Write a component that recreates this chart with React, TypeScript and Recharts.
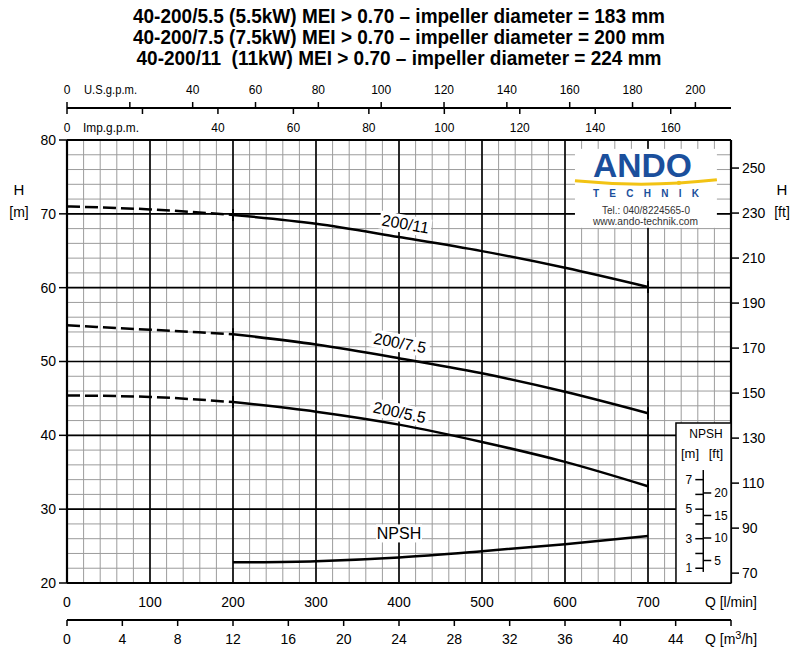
import React from 'react';
import {
  LineChart,
  Line,
  XAxis,
  YAxis,
  CartesianGrid,
  ReferenceArea,
  ReferenceLine,
  ReferenceDot,
} from 'recharts';

const SANS = '"Liberation Sans", Arial, sans-serif';

// flow Q [l/min] where the head curves were read
const flow = [0, 100, 200, 300, 400, 500, 600, 700];
// head H [m]; everything left of 200 l/min is drawn dashed
const head11 = [71.0, 70.6, 69.85, 68.66, 66.85, 64.95, 62.7, 60.1];
const head75 = [54.9, 54.3, 53.7, 52.3, 50.45, 48.4, 45.9, 43.0];
const head55 = [45.4, 45.2, 44.5, 43.2, 41.45, 39.1, 36.4, 33.1];
const DASH_END = 2; // index of 200 l/min

// NPSH [m]
const npshFlow = [200, 300, 400, 500, 600, 700];
const npshMeters = [1.4, 1.48, 1.73, 2.15, 2.63, 3.18];

// axis ticks
const qTicks = [0, 100, 200, 300, 400, 500, 600, 700, 800];
const m3hTicks = [0, 4, 8, 12, 16, 20, 24, 28, 32, 36, 40, 44, 48];
const usTicks = [0, 20, 40, 60, 80, 100, 120, 140, 160, 180, 200];
const impTicks = [0, 20, 40, 60, 80, 100, 120, 140, 160];
const hTicks = [20, 30, 40, 50, 60, 70, 80];
const ftTicks = [70, 90, 110, 130, 150, 170, 190, 210, 230, 250];
const npshMTicks = [1, 2, 3, 4, 5, 6, 7];
const npshFtTicks = [5, 10, 15, 20];

const LPM_PER_M3H = 1000 / 60;
const LPM_PER_USGPM = 3.78541;
const LPM_PER_IMPGPM = 4.54609;
const FT_PER_M = 3.28084;
const Q_MAX = 800;
const H_MIN = 20;
const H_MAX = 80;

// grid: fine lines every 20 l/min / 2 m, heavy lines every 100 l/min / 10 m
const gridMinorQ = Array.from({ length: 41 }, (_, i) => i * 20);
const gridMinorH = Array.from({ length: 31 }, (_, i) => H_MIN + i * 2);
const gridMajorQ = [100, 200, 300, 400, 500, 600, 700];
const gridMajorH = [30, 40, 50, 60, 70];

const curves = [
  { name: '200/11', key: 'h11', head: head11, angle: 10, dx: 4, dy: -14, w: 52 },
  { name: '200/7.5', key: 'h75', head: head75, angle: 11, dx: -2, dy: -15, w: 60 },
  { name: '200/5.5', key: 'h55', head: head55, angle: 12, dx: -2, dy: -12, w: 60 },
];

const chartData = flow.map((q, i) => {
  const row: Record<string, number | null> = {
    q,
    m3h: q / LPM_PER_M3H,
    usgpm: q / LPM_PER_USGPM,
    impgpm: q / LPM_PER_IMPGPM,
  };
  curves.forEach((c) => {
    row[`${c.key}d`] = i <= DASH_END ? c.head[i] : null;
    row[`${c.key}s`] = i >= DASH_END ? c.head[i] : null;
  });
  const n = npshFlow.indexOf(q);
  row.npsh = n >= 0 ? npshMeters[n] : null;
  return row;
});

// small vertical marks where the solid part of a curve starts and ends
const endTick = (p: any) => {
  const show = (p.index === DASH_END || p.index === flow.length - 1) && p.cy != null && !isNaN(p.cy);
  if (!show) return <g key={`d${p.index}`} />;
  return <line key={`d${p.index}`} x1={p.cx} x2={p.cx} y1={p.cy - 6} y2={p.cy + 6} stroke="#000" strokeWidth={2} />;
};

const curveLabel = (text: string, angle: number, dx: number, dy: number, w: number) => (p: any) => (
  <g transform={`translate(${p.cx},${p.cy}) rotate(${angle})`}>
    <rect x={dx - w / 2} y={dy - 9} width={w} height={18} fill="#fff" />
    <text x={dx} y={dy} textAnchor="middle" dominantBaseline="central" fontSize={16} fontFamily={SANS} fill="#000">
      {text}
    </text>
  </g>
);

const UsTick = (p: any) => {
  const v = p.payload.value;
  return (
    <g>
      {v !== 20 && (
        <text x={p.x} y={p.y} textAnchor="middle" fontSize={12} fontFamily={SANS} fill="#000">{v}</text>
      )}
      {v === 0 && (
        <text x={p.x + 17} y={p.y} fontSize={12} fontFamily={SANS} fill="#000" textLength={53} lengthAdjust="spacingAndGlyphs">U.S.g.p.m.</text>
      )}
    </g>
  );
};

const ImpTick = (p: any) => {
  const v = p.payload.value;
  return (
    <g>
      <line x1={p.x} x2={p.x} y1={p.y - 32} y2={p.y - 26} stroke="#000" strokeWidth={1.5} />
      {v !== 20 && (
        <text x={p.x} y={p.y - 8} textAnchor="middle" fontSize={12} fontFamily={SANS} fill="#000">{v}</text>
      )}
      {v === 0 && (
        <text x={p.x + 16} y={p.y - 8} fontSize={12} fontFamily={SANS} fill="#000" textLength={56} lengthAdjust="spacingAndGlyphs">Imp.g.p.m.</text>
      )}
    </g>
  );
};

const Logo = (p: any) => {
  const { x, y, width, height } = p;
  return (
    <g>
      <rect x={x} y={y} width={width} height={height} fill="#fff" />
      <text x={x + 18} y={y + 28} fontSize={33} fontWeight="bold" fontFamily={SANS} fill="#1b4f9c" textLength={99} lengthAdjust="spacingAndGlyphs">
        ANDO
      </text>
      <path d={`M${x} ${y + 32} Q${x + width / 2} ${y + 39} ${x + width} ${y + 31}`} stroke="#f2c314" strokeWidth={3} fill="none" />
      <circle cx={x + 104} cy={y + 34} r={2.2} fill="#f2c314" />
      <text x={x + 18} y={y + 48} fontSize={10} fontWeight="bold" fontFamily={SANS} fill="#1b4f9c" textLength={106} lengthAdjust="spacing">
        TECHNIK
      </text>
      <text x={x + 27} y={y + 65} fontSize={10} fontFamily={SANS} fill="#333" textLength={88} lengthAdjust="spacingAndGlyphs">
        Tel.: 040/8224565-0
      </text>
      <text x={x + 18} y={y + 76} fontSize={10} fontFamily={SANS} fill="#333" textLength={105} lengthAdjust="spacingAndGlyphs">
        www.ando-technik.com
      </text>
    </g>
  );
};

const NpshBox = (p: any) => {
  const { x, y, width, height } = p;
  return (
    <g>
      <rect x={x} y={y} width={width} height={height} fill="#fff" stroke="#000" strokeWidth={1.5} />
      <text x={x + 30} y={y + 15} textAnchor="middle" fontSize={12} fontFamily={SANS} fill="#000">NPSH</text>
      <text x={x + 14} y={y + 35} textAnchor="middle" fontSize={13} fontFamily={SANS} fill="#000">[m]</text>
      <text x={x + 40} y={y + 35} textAnchor="middle" fontSize={13} fontFamily={SANS} fill="#000">[ft]</text>
    </g>
  );
};

// the little NPSH scale inside the box, in l/min
const SCALE_Q = 766.6;
const SCALE_TICK = 9.6;

const titles = [
  { text: '40-200/5.5 (5.5kW) MEI > 0.70 \u2013 impeller diameter = 183 mm', y: 23, len: 532 },
  { text: '40-200/7.5 (7.5kW) MEI > 0.70 \u2013 impeller diameter = 200 mm', y: 44, len: 532 },
  { text: '40-200/11  (11kW) MEI > 0.70 \u2013 impeller diameter = 224 mm', y: 65, len: 525 },
];

const tickFont = { fontSize: 14, fill: '#000', fontFamily: SANS };

export default function App() {
  return (
    <div style={{ position: 'absolute', left: 0, top: 0, width: 800, height: 647, background: '#fff' }}>
      <LineChart width={800} height={647} data={chartData} margin={{ top: 78, right: 0, bottom: 0, left: 0 }}>
        <CartesianGrid xAxisId="x1q" yAxisId="h" verticalValues={gridMinorQ} horizontalValues={gridMinorH} stroke="#9c9c9c" strokeWidth={1} />
        <CartesianGrid xAxisId="x1q" yAxisId="h" verticalValues={gridMajorQ} horizontalValues={gridMajorH} stroke="#000" strokeWidth={1.6} />
        <CartesianGrid xAxisId="x1q" yAxisId="h" verticalValues={[0, Q_MAX]} horizontalValues={[H_MIN, H_MAX]} stroke="#000" strokeWidth={2.2} />

        <XAxis
          xAxisId="x1q"
          type="number"
          dataKey="q"
          domain={[0, Q_MAX]}
          allowDataOverflow
          ticks={qTicks}
          interval={0}
          height={37}
          axisLine={false}
          tickLine={false}
          tickSize={0}
          tickMargin={14}
          tickFormatter={(v: number) => (v === Q_MAX ? '' : String(v))}
          tick={tickFont}
        />
        <XAxis
          xAxisId="x2m3h"
          type="number"
          dataKey="m3h"
          domain={[0, Q_MAX / LPM_PER_M3H]}
          allowDataOverflow
          ticks={m3hTicks}
          interval={0}
          height={27}
          axisLine={{ stroke: '#000', strokeWidth: 2 }}
          tickLine={{ stroke: '#000', strokeWidth: 1.5 }}
          tickSize={6}
          tickMargin={8}
          tickFormatter={(v: number) => (v === 48 ? '' : String(v))}
          tick={tickFont}
        />
        <XAxis
          xAxisId="x3imp"
          orientation="top"
          type="number"
          dataKey="impgpm"
          domain={[0, Q_MAX / LPM_PER_IMPGPM]}
          allowDataOverflow
          ticks={impTicks}
          interval={0}
          height={32}
          axisLine={false}
          tickLine={false}
          tickSize={0}
          tickMargin={0}
          tick={<ImpTick />}
        />
        <XAxis
          xAxisId="x4us"
          orientation="top"
          type="number"
          dataKey="usgpm"
          domain={[0, Q_MAX / LPM_PER_USGPM]}
          allowDataOverflow
          ticks={usTicks}
          interval={0}
          height={30}
          axisLine={{ stroke: '#000', strokeWidth: 2 }}
          tickLine={{ stroke: '#000', strokeWidth: 1.5 }}
          tickSize={6}
          tickMargin={8}
          tick={<UsTick />}
        />
        <YAxis
          yAxisId="h"
          type="number"
          domain={[H_MIN, H_MAX]}
          allowDataOverflow
          ticks={hTicks}
          interval={0}
          width={67}
          axisLine={false}
          tickLine={{ stroke: '#000', strokeWidth: 1.5 }}
          tickSize={8}
          tickMargin={3}
          tick={tickFont}
        />
        <YAxis
          yAxisId="ft"
          orientation="right"
          type="number"
          domain={[H_MIN * FT_PER_M, H_MAX * FT_PER_M]}
          allowDataOverflow
          ticks={ftTicks}
          interval={0}
          width={69}
          axisLine={false}
          tickLine={{ stroke: '#000', strokeWidth: 1.5 }}
          tickSize={8}
          tickMargin={3}
          tick={tickFont}
        />
        <YAxis yAxisId="npsh" hide type="number" domain={[0, (H_MAX - H_MIN) / 2]} allowDataOverflow />

        <ReferenceArea xAxisId="x1q" yAxisId="h" x1={612} x2={783} y1={68.1} y2={78.8} shape={Logo} ifOverflow="visible" />
        <ReferenceArea xAxisId="x1q" yAxisId="h" x1={733.7} x2={Q_MAX} y1={H_MIN} y2={41.67} shape={NpshBox} ifOverflow="visible" />

        <ReferenceLine
          xAxisId="x1q"
          yAxisId="npsh"
          segment={[{ x: SCALE_Q, y: 0.75 }, { x: SCALE_Q, y: 7.65 }]}
          stroke="#000"
          strokeWidth={1.5}
          ifOverflow="visible"
        />
        {npshMTicks.map((m) => (
          <ReferenceLine
            key={`m${m}`}
            xAxisId="x1q"
            yAxisId="npsh"
            segment={[{ x: SCALE_Q - SCALE_TICK, y: m }, { x: SCALE_Q, y: m }]}
            stroke="#000"
            strokeWidth={1.5}
            ifOverflow="visible"
            label={m % 2 === 1 ? { value: String(m), position: 'left', offset: 3, fontSize: 12, fill: '#000', fontFamily: SANS } : undefined}
          />
        ))}
        {npshFtTicks.map((f) => (
          <ReferenceLine
            key={`f${f}`}
            xAxisId="x1q"
            yAxisId="npsh"
            segment={[{ x: SCALE_Q, y: f / FT_PER_M }, { x: SCALE_Q + SCALE_TICK, y: f / FT_PER_M }]}
            stroke="#000"
            strokeWidth={1.5}
            ifOverflow="visible"
            label={{ value: String(f), position: 'right', offset: 3, fontSize: 12, fill: '#000', fontFamily: SANS }}
          />
        ))}

        {curves.map((c) => (
          <Line
            key={`${c.key}d`}
            xAxisId="x1q"
            yAxisId="h"
            dataKey={`${c.key}d`}
            type="monotone"
            stroke="#000"
            strokeWidth={2.5}
            strokeDasharray="13 5"
            dot={false}
            isAnimationActive={false}
          />
        ))}
        {curves.map((c) => (
          <Line
            key={`${c.key}s`}
            xAxisId="x1q"
            yAxisId="h"
            dataKey={`${c.key}s`}
            type="monotone"
            stroke="#000"
            strokeWidth={2.5}
            dot={endTick}
            isAnimationActive={false}
          />
        ))}
        <Line
          xAxisId="x1q"
          yAxisId="npsh"
          dataKey="npsh"
          type="monotone"
          stroke="#000"
          strokeWidth={2.5}
          dot={false}
          isAnimationActive={false}
        />

        {curves.map((c) => (
          <ReferenceDot
            key={`${c.key}-label`}
            xAxisId="x1q"
            yAxisId="h"
            x={flow[4]}
            y={c.head[4]}
            r={0}
            ifOverflow="visible"
            shape={curveLabel(c.name, c.angle, c.dx, c.dy, c.w)}
          />
        ))}
        <ReferenceDot
          xAxisId="x1q"
          yAxisId="npsh"
          x={npshFlow[2]}
          y={npshMeters[2]}
          r={0}
          ifOverflow="visible"
          shape={curveLabel('NPSH', 0, 0, -24, 46)}
        />
      </LineChart>

      <svg width={800} height={647} style={{ position: 'absolute', left: 0, top: 0, pointerEvents: 'none' }}>
        {titles.map((t) => (
          <text
            key={t.y}
            x={399}
            y={t.y}
            textAnchor="middle"
            fontSize={20}
            fontWeight="bold"
            fontFamily={SANS}
            fill="#000"
            textLength={t.len}
            lengthAdjust="spacingAndGlyphs"
            style={{ whiteSpace: 'pre' }}
          >
            {t.text}
          </text>
        ))}
        <text x={19} y={195} textAnchor="middle" fontSize={15} fontFamily={SANS}>H</text>
        <text x={19} y={217} textAnchor="middle" fontSize={14} fontFamily={SANS}>[m]</text>
        <text x={782} y={195} textAnchor="middle" fontSize={15} fontFamily={SANS}>H</text>
        <text x={782} y={217} textAnchor="middle" fontSize={14} fontFamily={SANS}>[ft]</text>
        <text x={705} y={607} fontSize={14} fontFamily={SANS} textLength={52} lengthAdjust="spacingAndGlyphs">Q [l/min]</text>
        <text x={705} y={644} fontSize={14} fontFamily={SANS}>
          Q [m<tspan dy={-5} fontSize={11}>3</tspan>
          <tspan dy={5}>/h]</tspan>
        </text>
      </svg>
    </div>
  );
}
